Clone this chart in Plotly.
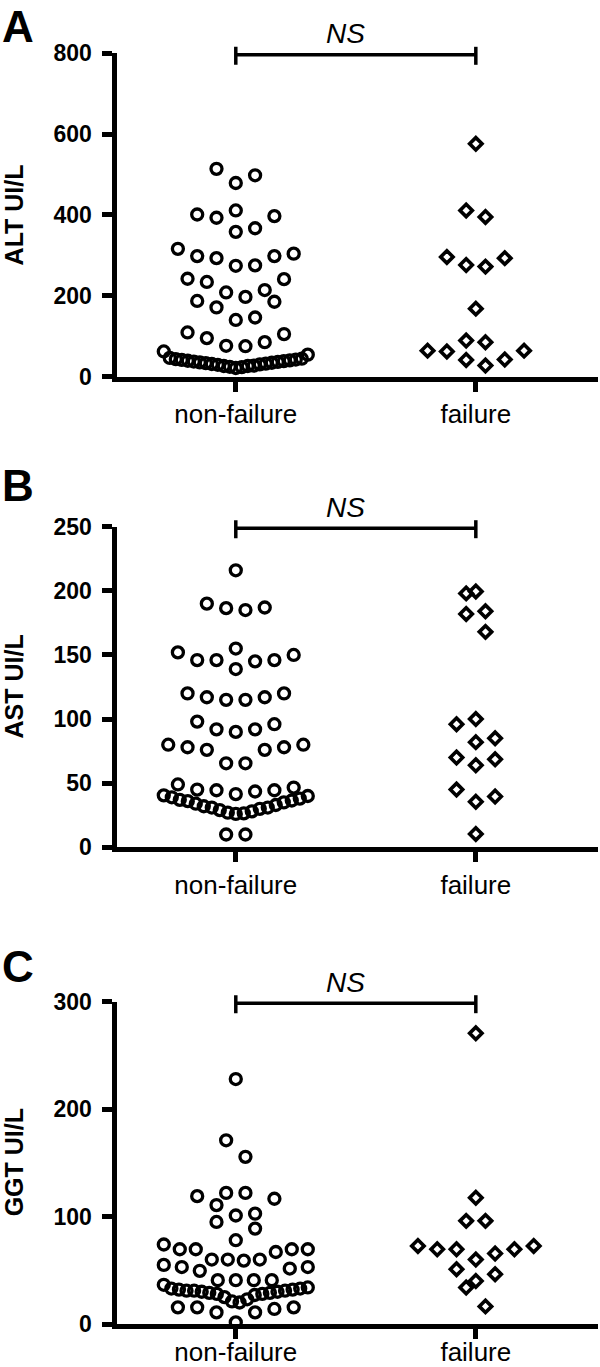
import numpy as np
import plotly.graph_objects as go

# ---------------- data ----------------
categories = ["non-failure", "failure"]

alt_nonfailure = [514, 498, 479, 411, 401, 397, 393, 367, 358, 316, 304, 298, 298, 293, 275, 274,
                  242, 241, 234, 214, 208, 197, 187, 185, 171, 146, 140, 109, 105, 95, 85, 76, 75,
                  62, 54, 46, 44, 43, 42, 41, 40, 39, 38, 37, 36, 35, 34, 33, 32, 31, 30, 29, 27,
                  26, 26, 24, 23, 21]
alt_failure = [576, 411, 395, 296, 293, 276, 272, 168, 89, 85, 64, 64, 62, 42, 41, 27]

ast_nonfailure = [216, 190, 187, 186.5, 185, 155, 152, 150, 146, 146, 146, 145, 139, 120, 120, 117,
                  117, 115, 115, 98, 96, 92, 92, 90, 80, 80, 78, 78, 76, 76, 65.5, 65.5, 49, 46.6,
                  45, 44.5, 44.5, 43.5, 41.5, 40.5, 40, 39, 38, 37, 36.5, 36, 35, 34, 33, 32, 31,
                  31, 30, 29, 28, 27, 26.5, 26, 10, 10]
ast_failure = [199.5, 198, 184, 182, 168, 100, 96, 85, 82, 70, 68.6, 64, 45, 39.6, 35.5, 10.4]

ggt_nonfailure = [228, 171, 155.6, 122, 122, 119, 116.6, 110.7, 102.7, 101, 95, 88.8, 78, 74, 69.6,
                  69.6, 69.6, 69.6, 67, 60, 60, 60, 59, 55, 53, 53, 51.6, 49.5, 40.8, 40.8, 40.8,
                  40.8, 36.5, 34, 33, 33, 32, 32, 31, 31, 31, 30, 30, 29, 29, 28, 28, 27, 25, 23,
                  21, 20, 15.5, 15.5, 15.5, 14, 10.8, 10.8, 1.5]
ggt_failure = [270.6, 117.5, 96, 96, 72.7, 72.7, 69.6, 69.6, 69.6, 65.6, 60, 51, 46.4, 40, 34, 16.4]

panel_letters = ["A", "B", "C"]
y_titles = ["ALT UI/L", "AST UI/L", "GGT UI/L"]
y_max = [800, 250, 300]
y_dtick = [200, 50, 100]
sig_label = "NS"

series = [(alt_nonfailure, alt_failure), (ast_nonfailure, ast_failure), (ggt_nonfailure, ggt_failure)]

# ---------------- layout geometry (pixels) ----------------
W, H = 600, 1367
X_LEFT, X_RIGHT = 116.5, 598.0
X_RANGE = [-0.497, 1.509]
PANEL_TOP = [53.3, 526.7, 1001.7]
PANEL_BOTTOM = [376.5, 847.3, 1324.0]
XLABEL_STANDOFF = [0, 0, -9]
FONT = "Liberation Sans, Arial, Helvetica, sans-serif"

x_px_per_unit = (X_RIGHT - X_LEFT) / (X_RANGE[1] - X_RANGE[0])


def swarm_offsets(values, y_px_per_unit, row_px=19.5, step_px=19.3, max_half_px=72.0):
    """Prism-like scatter-dot layout: group values into rows, spread each row
    symmetrically around the category centre (lowest value in the middle)."""
    v = np.asarray(values, dtype=float)
    order = np.argsort(v, kind="stable")
    offs = np.zeros(len(v))
    i = 0
    while i < len(order):
        start = v[order[i]]
        row = []
        while i < len(order) and (v[order[i]] - start) * y_px_per_unit < row_px:
            row.append(order[i])
            i += 1
        k = len(row)
        s = step_px
        if k > 1 and (k - 1) * s > 2 * max_half_px:
            s = 2 * max_half_px / (k - 1)
        if k % 2 == 1:
            slots = [0.0]
            for j in range(1, k // 2 + 1):
                slots += [j * s, -j * s]
        else:
            slots = []
            for j in range(k // 2):
                slots += [(j + 0.5) * s, -(j + 0.5) * s]
        row_sorted = sorted(row, key=lambda idx: v[idx])
        for idx, sl in zip(row_sorted, slots):
            offs[idx] = sl
    return offs / x_px_per_unit


fig = go.Figure()
shapes = []
annotations = []

for p in range(3):
    top, bot = PANEL_TOP[p], PANEL_BOTTOM[p]
    y_px_per_unit = (bot - top) / y_max[p]
    ax_suffix = "" if p == 0 else str(p + 1)
    xref, yref = "x" + ax_suffix, "y" + ax_suffix

    nonf, fail = series[p]
    for ci, (vals, sym, size, lw) in enumerate([(nonf, "circle-open", 11, 3.3),
                                                (fail, "diamond-open", 9.5, 3.6)]):
        xo = swarm_offsets(vals, y_px_per_unit)
        fig.add_trace(go.Scatter(
            x=ci + xo, y=vals, mode="markers",
            marker=dict(symbol=sym, size=size, color="black", line=dict(width=lw, color="black")),
            cliponaxis=False, showlegend=False, hoverinfo="y",
            xaxis=xref, yaxis=yref))

    dom = [1 - bot / H, 1 - top / H]
    axis_common = dict(showline=True, linewidth=5, linecolor="black", ticks="outside",
                       ticklen=10, tickwidth=5, tickcolor="black", showgrid=False,
                       zeroline=False, automargin=False, fixedrange=True)
    fig.update_layout(**{
        "xaxis" + ax_suffix: dict(domain=[X_LEFT / W, X_RIGHT / W], range=X_RANGE,
                                  anchor=yref, tickvals=[0, 1], ticktext=categories,
                                  ticklabelstandoff=XLABEL_STANDOFF[p],
                                  tickfont=dict(family=FONT, size=26, color="black"),
                                  **axis_common),
        "yaxis" + ax_suffix: dict(domain=dom, range=[0, y_max[p]], anchor=xref,
                                  tick0=0, dtick=y_dtick[p], ticklabelstandoff=5,
                                  tickfont=dict(family=FONT, size=23, color="black", weight="bold"),
                                  **axis_common),
    })

    # significance bracket
    by = top + 1.5
    for (x0, x1, y0, y1) in [(0, 1, by, by), (0, 0, by - 8, by + 10), (1, 1, by - 8, by + 10)]:
        shapes.append(dict(type="line", xref=xref, yref="paper", x0=x0, x1=x1,
                           y0=1 - y0 / H, y1=1 - y1 / H, line=dict(color="black", width=3.5)))
    annotations.append(dict(text="<i>%s</i>" % sig_label, xref=xref, yref="paper", x=0.5,
                            xshift=-10, y=1 - (by - 21) / H, yanchor="middle", xanchor="center",
                            showarrow=False, font=dict(family=FONT, size=28, color="black")))
    # y title
    annotations.append(dict(text="<b>%s</b>" % y_titles[p], xref="paper", yref="paper",
                            x=13.5 / W, y=1 - (top + bot) / 2 / H, textangle=-90,
                            xanchor="center", yanchor="middle", showarrow=False,
                            font=dict(family=FONT, size=25, color="black")))
    # panel letter
    if p == 0:
        letter_pos = dict(y=1.0, yanchor="top")
    else:
        letter_pos = dict(y=1 - [486, 966][p - 1] / H, yanchor="middle")
    annotations.append(dict(text="<b>%s</b>" % panel_letters[p], xref="paper", yref="paper",
                            x=18.0 / W, xanchor="center", showarrow=False,
                            font=dict(family=FONT, size=44, color="black"), **letter_pos))

fig.update_layout(width=W, height=H, margin=dict(l=0, r=0, t=0, b=0),
                  paper_bgcolor="white", plot_bgcolor="white", showlegend=False,
                  shapes=shapes, annotations=annotations,
                  font=dict(family=FONT, color="black"))

fig.write_html("out.html", config={"displayModeBar": False},
               post_script="document.body.style.margin='0';document.body.style.padding='0';")
